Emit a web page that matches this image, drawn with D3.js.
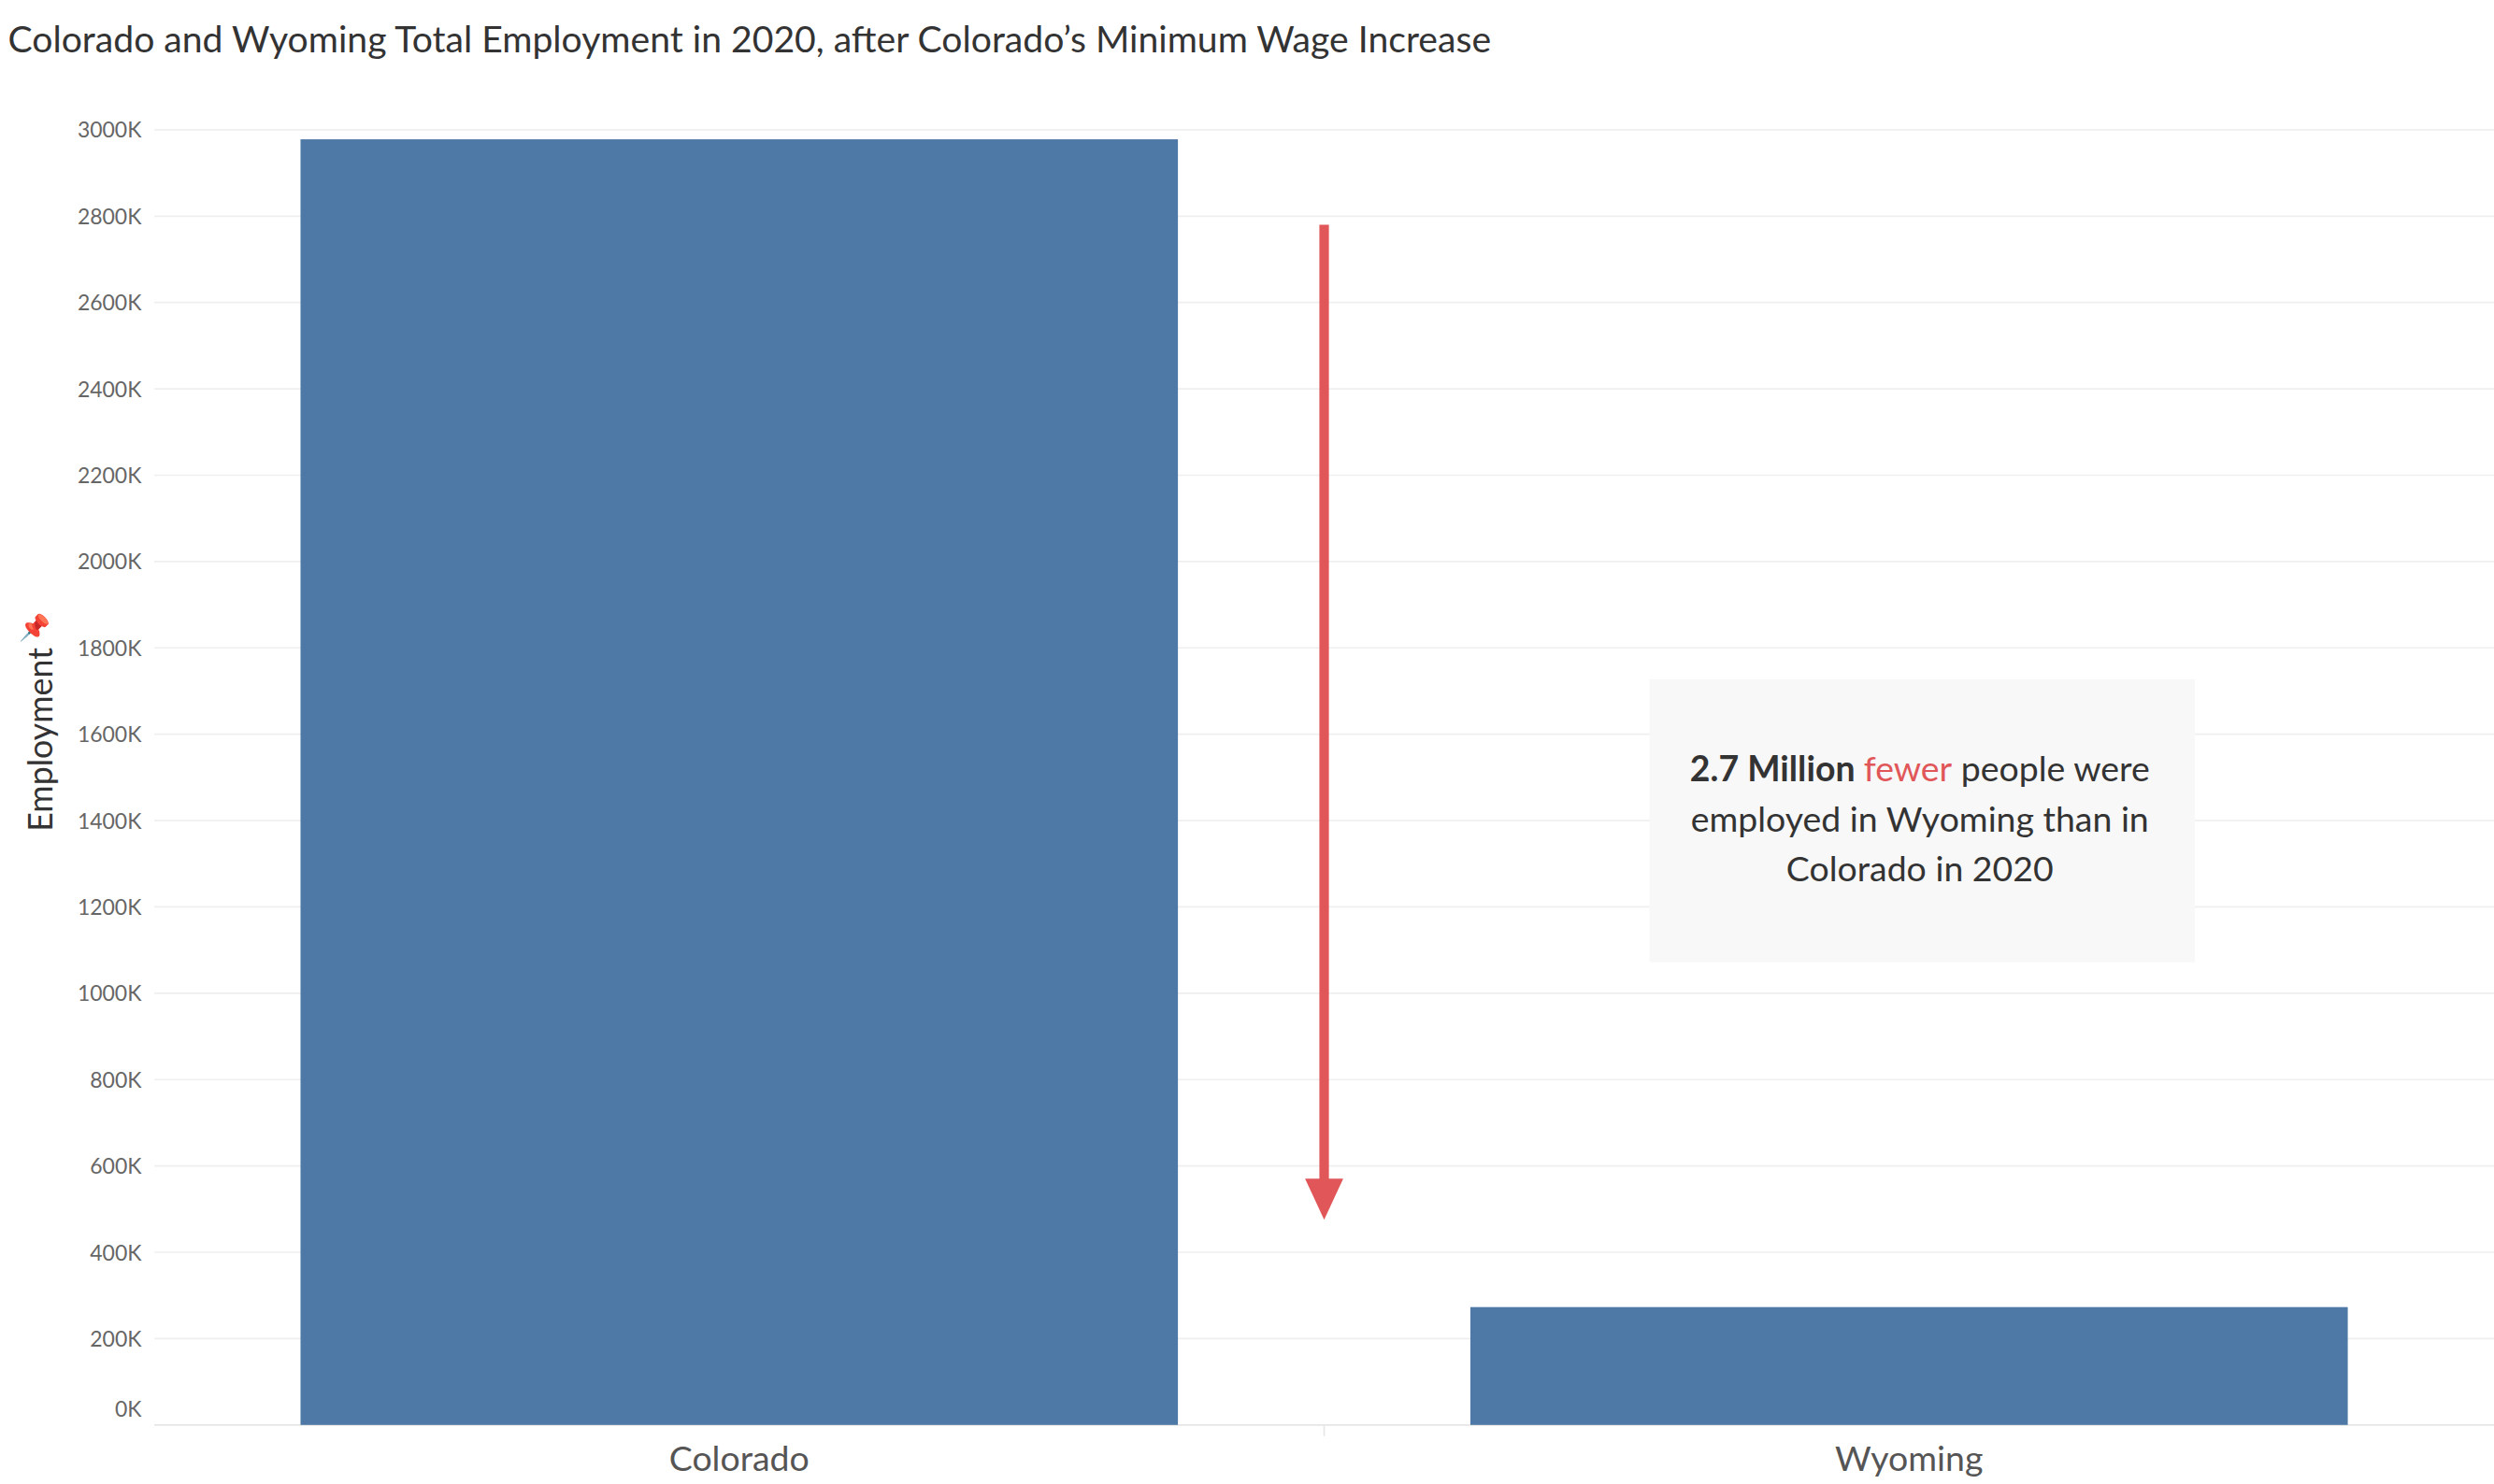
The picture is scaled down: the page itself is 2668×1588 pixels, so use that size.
<!DOCTYPE html>
<html><head><meta charset="utf-8">
<script src="https://cdn.jsdelivr.net/npm/d3@7"></script>
<style>body{margin:0;background:#fff}svg{display:block}text{font-family:Lato,"Open Sans",sans-serif}</style>
</head><body><div id="chart"></div>
<script>
const states = ["Colorado", "Wyoming"];
const employment = [2978000, 273000];
const yTicks = [0, 200000, 400000, 600000, 800000, 1000000, 1200000, 1400000, 1600000, 1800000, 2000000, 2200000, 2400000, 2600000, 2800000, 3000000];
const arrowFrom = 2780000, arrowTo = 475000;

const W = 1568, H = 933;
const svg = d3.select("#chart").append("svg")
  .attr("width", 2668).attr("height", 1588)
  .attr("viewBox", `0 0 ${W} ${H}`);

const m = {left: 97, right: 0, top: 0, bottom: 37};
const y = d3.scaleLinear().domain([0, 3000000]).range([896, 81.5]);
const x = d3.scaleBand().domain(states).range([97, W]).paddingInner(0.25).paddingOuter(0.125);

svg.append("text").attr("x", 5).attr("y", 33).attr("font-size", 23).attr("fill", "#333")
  .text("Colorado and Wyoming Total Employment in 2020, after Colorado’s Minimum Wage Increase");

// gridlines
svg.append("g").selectAll("line").data(yTicks).join("line")
  .attr("x1", 97).attr("x2", W).attr("y1", d => y(d)).attr("y2", d => y(d))
  .attr("stroke", d => d === 0 ? "#e6e6e6" : "#efefef").attr("stroke-width", 1);

svg.append("g").selectAll("text").data(yTicks).join("text")
  .attr("x", 89).attr("y", d => d === 0 ? y(d) - 5 : y(d) + 5)
  .attr("text-anchor", "end").attr("font-size", 13.5).attr("fill", "#666")
  .text(d => d / 1000 + "K");

svg.append("text").attr("transform", "translate(33,465) rotate(-90)")
  .attr("text-anchor", "middle").attr("font-size", 21).attr("fill", "#333").text("Employment");
svg.append("text").attr("x", 22).attr("y", 400).attr("text-anchor", "middle")
  .attr("font-size", 16).attr("fill", "#5a6a7e").text("📌");

// bars
svg.append("g").selectAll("rect").data(states).join("rect")
  .attr("x", d => x(d)).attr("width", x.bandwidth())
  .attr("y", (d, i) => y(employment[i])).attr("height", (d, i) => y(0) - y(employment[i]))
  .attr("fill", "#4e79a7");

// divider tick and x labels
const mid = x.range()[0] + (x.range()[1] - x.range()[0]) / 2;
svg.append("line").attr("x1", mid).attr("x2", mid).attr("y1", 896).attr("y2", 903).attr("stroke", "#e6e6e6");
svg.append("g").selectAll("text").data(states).join("text")
  .attr("x", d => x(d) + x.bandwidth() / 2).attr("y", 925)
  .attr("text-anchor", "middle").attr("font-size", 22).attr("fill", "#555").text(d => d);

// arrow
svg.append("line").attr("x1", mid).attr("x2", mid).attr("y1", y(arrowFrom)).attr("y2", y(arrowTo) - 24)
  .attr("stroke", "#e15759").attr("stroke-width", 6);
svg.append("path").attr("d", `M${mid - 12},${y(arrowTo) - 26}L${mid + 12},${y(arrowTo) - 26}L${mid},${y(arrowTo)}Z`)
  .attr("fill", "#e15759");

// annotation
svg.append("rect").attr("x", 1037).attr("y", 427).attr("width", 343).attr("height", 178).attr("fill", "#f8f8f8");
const t = svg.append("text").attr("text-anchor", "middle").attr("font-size", 22).attr("fill", "#333");
const l1 = t.append("tspan").attr("x", 1207).attr("y", 491);
l1.append("tspan").attr("font-weight", "bold").text("2.7 Million ");
l1.append("tspan").attr("fill", "#e15759").text("fewer");
l1.append("tspan").text(" people were");
t.append("tspan").attr("x", 1207).attr("y", 523).text("employed in Wyoming than in");
t.append("tspan").attr("x", 1207).attr("y", 554).text("Colorado in 2020");
</script></body></html>
